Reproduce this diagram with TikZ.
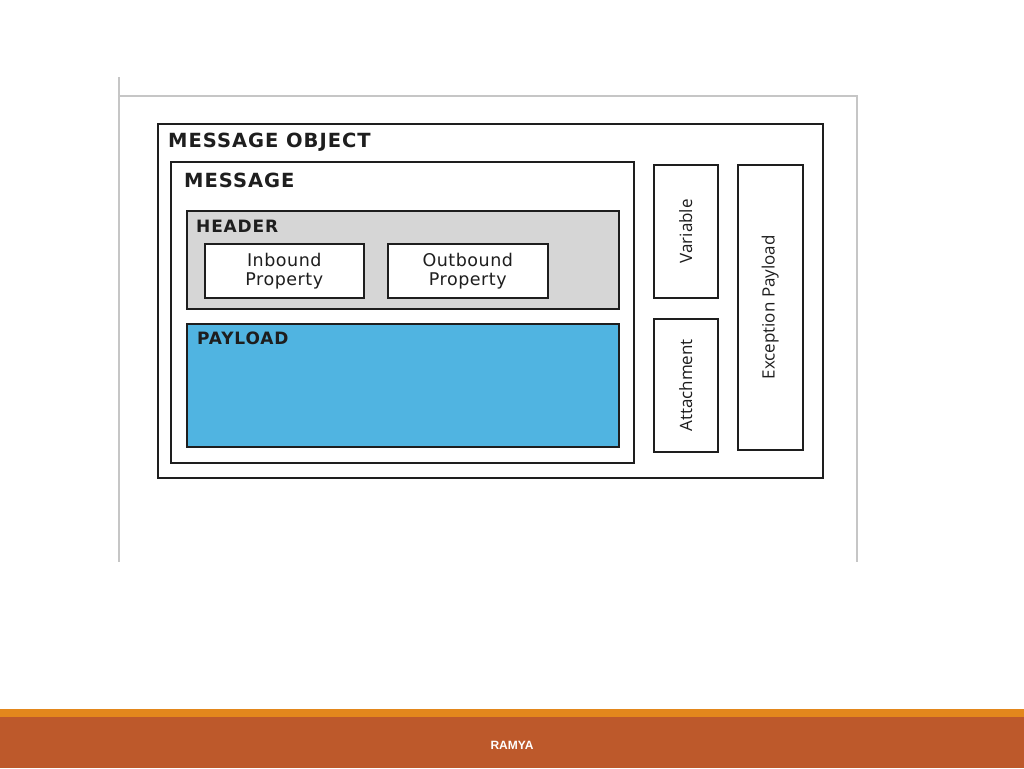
\documentclass[tikz,border=0pt]{standalone}
\usepackage{fontspec}
\setmainfont{DejaVu Sans}
\newfontfamily\headfont[LetterSpace=5]{DejaVu Sans}
\newfontfamily\propfont[LetterSpace=3]{DejaVu Sans}
\newfontfamily\sidefont{Open Sans}
\newfontfamily\footfont{Liberation Sans}
\usepackage{tikz}
\usetikzlibrary{positioning}
\definecolor{edge}{HTML}{1E1E1E}
\definecolor{framel}{HTML}{C6C6C6}
\definecolor{headgray}{HTML}{D6D6D6}
\definecolor{payblue}{HTML}{50B4E1}
\definecolor{stripe}{HTML}{E3871C}
\definecolor{rust}{HTML}{BD592B}
\tikzset{
  box/.style={draw=edge, line width=1.6pt, anchor=north west, inner sep=0pt},
  title/.style={anchor=base west, inner sep=0pt, text=edge, font=\headfont\bfseries\fontsize{19.5}{19.5}\selectfont},
  subtitle/.style={anchor=base west, inner sep=0pt, text=edge, font=\headfont\bfseries\fontsize{17}{17}\selectfont},
  prop/.style={align=center, text=edge, font=\propfont\fontsize{17.5}{19}\selectfont},
  side/.style={rotate=90, text=edge, font=\sidefont\fontsize{17}{17}\selectfont},
  frameline/.style={draw=framel, line width=1.2pt},
  foot/.style={text=white, font=\footfont\bfseries\fontsize{12}{12}\selectfont},
}
\begin{document}
\begin{tikzpicture}[x=1pt,y=-1pt]
  \useasboundingbox (0,0) rectangle (1024,768);
  \fill[white] (0,0) rectangle (1024,768);
  % slide frame
  \draw[frameline] (119,77) -- (119,562);
  \draw[frameline] (119,96) -- (857,96) -- (857,562);
  % outer object
  \node[box, minimum width=665pt, minimum height=354pt] (msgobj) at (157,123) {};
  \node[title] (msgobjT) at (168,147) {MESSAGE OBJECT};
  \node[box, minimum width=463pt, minimum height=301pt] (msg) at (170,161) {};
  \node[title] (msgT) at (184,187) {MESSAGE};
  % header
  \node[box, fill=headgray, minimum width=432pt, minimum height=98pt] (header) at (186,210) {};
  \node[subtitle] (headerT) at (196,232) {HEADER};
  \node[box, fill=white, minimum width=159pt, minimum height=54pt] (inbound) at (204,243) {};
  \node[prop] (inboundT) at (inbound.center) {Inbound\\Property};
  \node[box, fill=white, minimum width=160pt, minimum height=54pt] (outbound) at (387,243) {};
  \node[prop] (outboundT) at (outbound.center) {Outbound\\Property};
  % payload
  \node[box, fill=payblue, minimum width=432pt, minimum height=123pt] (payload) at (186,323) {};
  \node[subtitle] (payloadT) at (197,344) {PAYLOAD};
  % side boxes
  \node[box, minimum width=64pt, minimum height=133pt] (variable) at (653,164) {};
  \node[side] (variableT) at (variable.center) {Variable};
  \node[box, minimum width=64pt, minimum height=133pt] (attach) at (653,318) {};
  \node[side] (attachT) at (attach.center) {Attachment};
  \node[box, minimum width=65pt, minimum height=285pt] (exception) at (737,164) {};
  \node[side] (exceptionT) at (exception.center) {Exception Payload};
  % footer
  \fill[stripe] (0,709) rectangle (1024,717);
  \fill[rust] (0,717) rectangle (1024,768);
  \node[foot] (author) at (512,745) {RAMYA};
\end{tikzpicture}
\end{document}
